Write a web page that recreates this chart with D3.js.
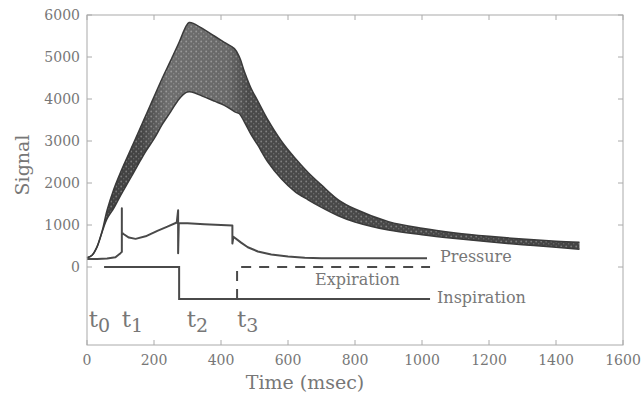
<!DOCTYPE html>
<html><head><meta charset="utf-8">
<script src="https://cdn.jsdelivr.net/npm/d3@7"></script>
<style>body{margin:0;background:#fff}svg{display:block}</style>
</head><body>
<svg id="c" width="641" height="402"></svg>
<script>
// ---- data ----
const bundleTime = [0,15,30,45,60,80,100,125,150,175,200,225,250,275,295,305,320,350,380,410,440,455,470,490,510,540,580,620,660,700,750,800,900,1000,1100,1200,1300,1400,1470];
const bundleUpper = [220,280,480,850,1350,1850,2250,2700,3150,3600,4050,4500,4920,5350,5720,5820,5790,5650,5500,5350,5200,5000,4650,4250,3950,3500,3000,2600,2250,1950,1600,1380,1080,920,810,730,665,615,590];
const bundleLower = [220,280,480,830,1150,1400,1700,2050,2400,2750,3050,3400,3700,4000,4150,4170,4150,4050,3950,3850,3700,3650,3450,3150,2900,2500,2100,1800,1600,1420,1220,1070,880,770,680,600,530,470,420];
const pressureTime = [0,30,60,85,100,104,104,104,110,125,145,175,210,240,268,272,272,274,300,350,400,434,434,437,460,480,510,550,600,650,700,1015];
const pressureValue = [190,190,200,230,330,360,1400,820,780,700,670,730,860,960,1060,1350,330,1050,1040,1020,1000,990,560,720,580,470,370,300,250,220,210,210];
const inspTime = [51,275,275,1024];
const inspValue = [0,0,-760,-760];
const expTime = [448,448,1024];
const expValue = [-760,0,0];
const xTicks = [0,200,400,600,800,1000,1200,1400,1600];
const yTicks = [0,1000,2000,3000,4000,5000,6000];
const phaseLabels = [{t:"t",s:"0",time:5},{t:"t",s:"1",time:104},{t:"t",s:"2",time:298},{t:"t",s:"3",time:448}];

// ---- chart ----
const svg = d3.select("#c");
const font = "'DejaVu Serif', serif";
const x = d3.scaleLinear().domain([0,1600]).range([87,623]);
const y = d3.scaleLinear().domain([-1857,6000]).range([345,15]);
const axisCol = "#aaa", textCol = "#777", lineCol = "#4a4a4a";

const defs = svg.append("defs");
const g = defs.append("linearGradient").attr("id","bg").attr("gradientUnits","userSpaceOnUse")
  .attr("x1",x(0)).attr("x2",x(1470)).attr("y1",0).attr("y2",0);
[[0,"#3e3e3e"],[160,"#444"],[240,"#6e6e6e"],[420,"#686868"],[480,"#4a4a4a"],[1470,"#444"]]
  .forEach(([t,c])=>g.append("stop").attr("offset",t/1470).attr("stop-color",c));
const pat = defs.append("pattern").attr("id","sp").attr("width",5).attr("height",5).attr("patternUnits","userSpaceOnUse");
pat.append("circle").attr("cx",1.2).attr("cy",1.5).attr("r",0.9).attr("fill","#fff").attr("opacity",0.3);
pat.append("circle").attr("cx",3.7).attr("cy",3.8).attr("r",0.7).attr("fill","#fff").attr("opacity",0.22);

const bundle = bundleTime.map((t,i)=>({t,u:bundleUpper[i],l:bundleLower[i]}));
const cv = d3.curveCatmullRom.alpha(0.5);
const area = d3.area().x(d=>x(d.t)).y0(d=>y(d.l)).y1(d=>y(d.u)).curve(cv);
svg.append("path").datum(bundle).attr("d",area).attr("fill","url(#bg)");
svg.append("path").datum(bundle).attr("d",area).attr("fill","url(#sp)");
const lu = d3.line().x(d=>x(d.t)).y(d=>y(d.u)).curve(cv);
const ll = d3.line().x(d=>x(d.t)).y(d=>y(d.l)).curve(cv);
svg.append("path").datum(bundle).attr("d",lu).attr("fill","none").attr("stroke","#3a3a3a").attr("stroke-width",1.5);
svg.append("path").datum(bundle).attr("d",ll).attr("fill","none").attr("stroke","#3a3a3a").attr("stroke-width",1.5);

const line = d3.line().x(d=>x(d[0])).y(d=>y(d[1]));
svg.append("path").datum(pressureTime.map((t,i)=>[t,pressureValue[i]])).attr("d",line)
  .attr("fill","none").attr("stroke",lineCol).attr("stroke-width",2).attr("stroke-linejoin","round");
svg.append("path").datum(inspTime.map((t,i)=>[t,inspValue[i]])).attr("d",line)
  .attr("fill","none").attr("stroke",lineCol).attr("stroke-width",2);
svg.append("path").datum(expTime.map((t,i)=>[t,expValue[i]])).attr("d",line)
  .attr("fill","none").attr("stroke",lineCol).attr("stroke-width",2).attr("stroke-dasharray","10,8");

// frame
svg.append("rect").attr("x",x(0)).attr("y",y(6000)).attr("width",x(1600)-x(0)).attr("height",y(-1857)-y(6000))
  .attr("fill","none").attr("stroke",axisCol).attr("stroke-width",1);
xTicks.forEach(t=>{
  svg.append("line").attr("x1",x(t)).attr("x2",x(t)).attr("y1",y(-1857)).attr("y2",y(-1857)-5).attr("stroke",axisCol);
  svg.append("line").attr("x1",x(t)).attr("x2",x(t)).attr("y1",y(6000)).attr("y2",y(6000)+5).attr("stroke",axisCol);
  svg.append("text").attr("x",x(t)).attr("y",365).attr("text-anchor","middle").attr("font-family",font)
    .attr("font-size",14).attr("fill",textCol).text(t);
});
yTicks.forEach(v=>{
  svg.append("line").attr("x1",x(0)).attr("x2",x(0)+5).attr("y1",y(v)).attr("y2",y(v)).attr("stroke",axisCol);
  svg.append("line").attr("x1",x(1600)).attr("x2",x(1600)-5).attr("y1",y(v)).attr("y2",y(v)).attr("stroke",axisCol);
  svg.append("text").attr("x",80).attr("y",y(v)+5).attr("text-anchor","end").attr("font-family",font)
    .attr("font-size",14).attr("fill",textCol).text(v);
});
svg.append("text").attr("x",305).attr("y",389).attr("text-anchor","middle").attr("font-family",font)
  .attr("font-size",19).attr("fill",textCol).text("Time (msec)");
svg.append("text").attr("transform","translate(29,165) rotate(-90)").attr("text-anchor","middle").attr("font-family",font)
  .attr("font-size",19).attr("fill",textCol).text("Signal");

svg.append("text").attr("x",440).attr("y",262).attr("font-family",font).attr("font-size",16).attr("fill",textCol).text("Pressure");
svg.append("text").attr("x",315).attr("y",285).attr("font-family",font).attr("font-size",16).attr("fill",textCol).text("Expiration");
svg.append("text").attr("x",437).attr("y",303).attr("font-family",font).attr("font-size",16).attr("fill",textCol).text("Inspiration");

phaseLabels.forEach(p=>{
  const tx = svg.append("text").attr("x",x(p.time)).attr("y",327).attr("font-family",font).attr("font-size",23).attr("fill",textCol);
  tx.append("tspan").text(p.t);
  tx.append("tspan").attr("dy",5).attr("font-size",19).text(p.s);
});
</script>
</body></html>
